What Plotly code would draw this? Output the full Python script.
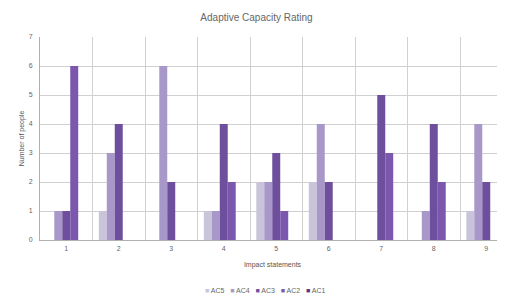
import plotly.graph_objects as go

categories = ["1", "2", "3", "4", "5", "6", "7", "8", "9"]
series_names = ["AC5", "AC4", "AC3", "AC2", "AC1"]
ac5 = [0, 1, 0, 1, 2, 2, 0, 0, 1]
ac4 = [1, 3, 6, 1, 2, 4, 0, 1, 4]
ac3 = [1, 4, 2, 4, 3, 2, 5, 4, 2]
ac2 = [6, 0, 0, 2, 1, 0, 3, 2, 0]
ac1 = [0, 0, 0, 0, 0, 0, 0, 0, 0]
colors = ["#c9c4d9", "#a898c9", "#6e4f9d", "#7b58ad", "#573b7e"]

fig = go.Figure()
for name, vals, col in zip(series_names, [ac5, ac4, ac3, ac2, ac1], colors):
    fig.add_trace(go.Bar(x=categories, y=vals, name=name, marker=dict(color=col, line=dict(width=0))))

legend_text = "&nbsp;&nbsp;&nbsp;".join(
    f"<span style='color:{c}'>■</span> {n}" for n, c in zip(series_names, colors)
)

# page body has an 8px margin, so the figure is 8px smaller than the window
fig.update_layout(
    width=497, height=292,
    margin=dict(l=32, r=0, t=29, b=60, autoexpand=False),
    paper_bgcolor="white", plot_bgcolor="white",
    font=dict(family="Liberation Sans, Arial, sans-serif", size=7, color="#666666"),
    title=dict(text="Adaptive Capacity Rating", x=0.5, xanchor="center", y=0.969, yanchor="middle",
               font=dict(size=10, color="#666666")),
    barmode="group", bargap=0.24, bargroupgap=0,
    showlegend=False,
    annotations=[dict(text=legend_text, xref="paper", yref="paper", x=0.484, y=-0.251,
                      xanchor="center", yanchor="middle", showarrow=False,
                      font=dict(size=7, color="#666666"))],
    xaxis=dict(type="category", range=[-0.5, 8.357], tickson="boundaries", showgrid=True,
               gridcolor="#d0d0d0", gridwidth=1, showline=True, linecolor="#b0b0b0",
               ticks="", tickfont=dict(size=7), automargin=False, ticklabelstandoff=2,
               title=dict(text="Impact statements", font=dict(size=7, color="#555555"), standoff=10)),
    yaxis=dict(range=[0, 7], dtick=1, showgrid=True, gridcolor="#d0d0d0", gridwidth=1,
               showline=True, linecolor="#b0b0b0", ticks="", zeroline=False, automargin=False,
               ticklabelstandoff=5,
               tickfont=dict(size=7), title=dict(text="Number of people", font=dict(size=7, color="#555555"), standoff=3)),
)

fig.write_html("out.html")
